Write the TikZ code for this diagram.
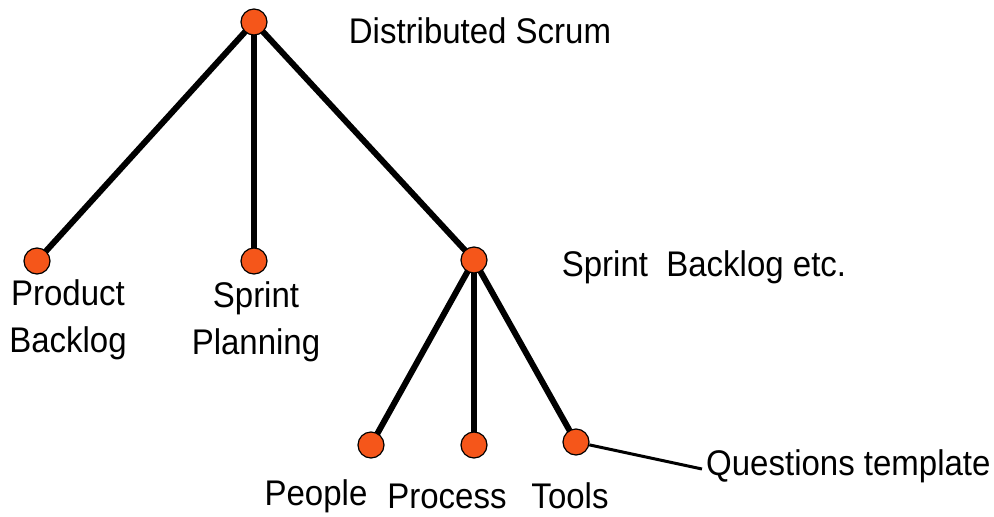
\documentclass[tikz,border=0pt]{standalone}
\usepackage{fontspec}
\setmainfont{Liberation Sans}
\usetikzlibrary{backgrounds}
\definecolor{dotorange}{HTML}{F5561A}
\begin{document}
\begin{tikzpicture}[x=1pt,y=-1pt,
  dot/.style={circle,draw=black,line width=1.2pt,fill=dotorange,minimum size=26pt,inner sep=0pt},
  edge/.style={line width=6pt},
  thin/.style={line width=3pt},
  lbl/.style={font=\fontsize{33}{44}\selectfont,inner sep=0pt,align=center,yscale=1.08}]
\useasboundingbox (0,0) rectangle (994,517);
% tree nodes
\node[dot] (root) at (254,22) {};
\node[dot] (pb) at (37,261) {};
\node[dot] (sp) at (254,261) {};
\node[dot] (sb) at (474,260) {};
\node[dot] (people) at (371,445) {};
\node[dot] (process) at (474,445) {};
\node[dot] (tools) at (576,442) {};
% connectors, kept behind the dots
\begin{scope}[on background layer]
\draw[edge] (root.center) -- (pb.center);
\draw[edge] (root.center) -- (sp.center);
\draw[edge] (root.center) -- (sb.center);
\draw[edge] (sb.center) -- (people.center);
\draw[edge] (sb.center) -- (process.center);
\draw[edge] (sb.center) -- (tools.center);
\end{scope}
% labels
\node[lbl] (tDS) at (480,31) {Distributed Scrum};
\node[lbl] (tSB) at (704,267) {Sprint\ \ Backlog etc.};
\node[lbl] (tPB) at (68,320) {Product\\Backlog};
\node[lbl] (tSP) at (256,322) {Sprint\\Planning};
\node[lbl] (tPe) at (316,496) {People};
\node[lbl] (tPr) at (447,496) {Process};
\node[lbl] (tTo) at (570,496) {Tools};
\node[lbl,anchor=west] (tQT) at (706,466) {Questions template};
\draw[thin] (tools) -- ([xshift=-4pt,yshift=-3pt]tQT.west);
\end{tikzpicture}
\end{document}
